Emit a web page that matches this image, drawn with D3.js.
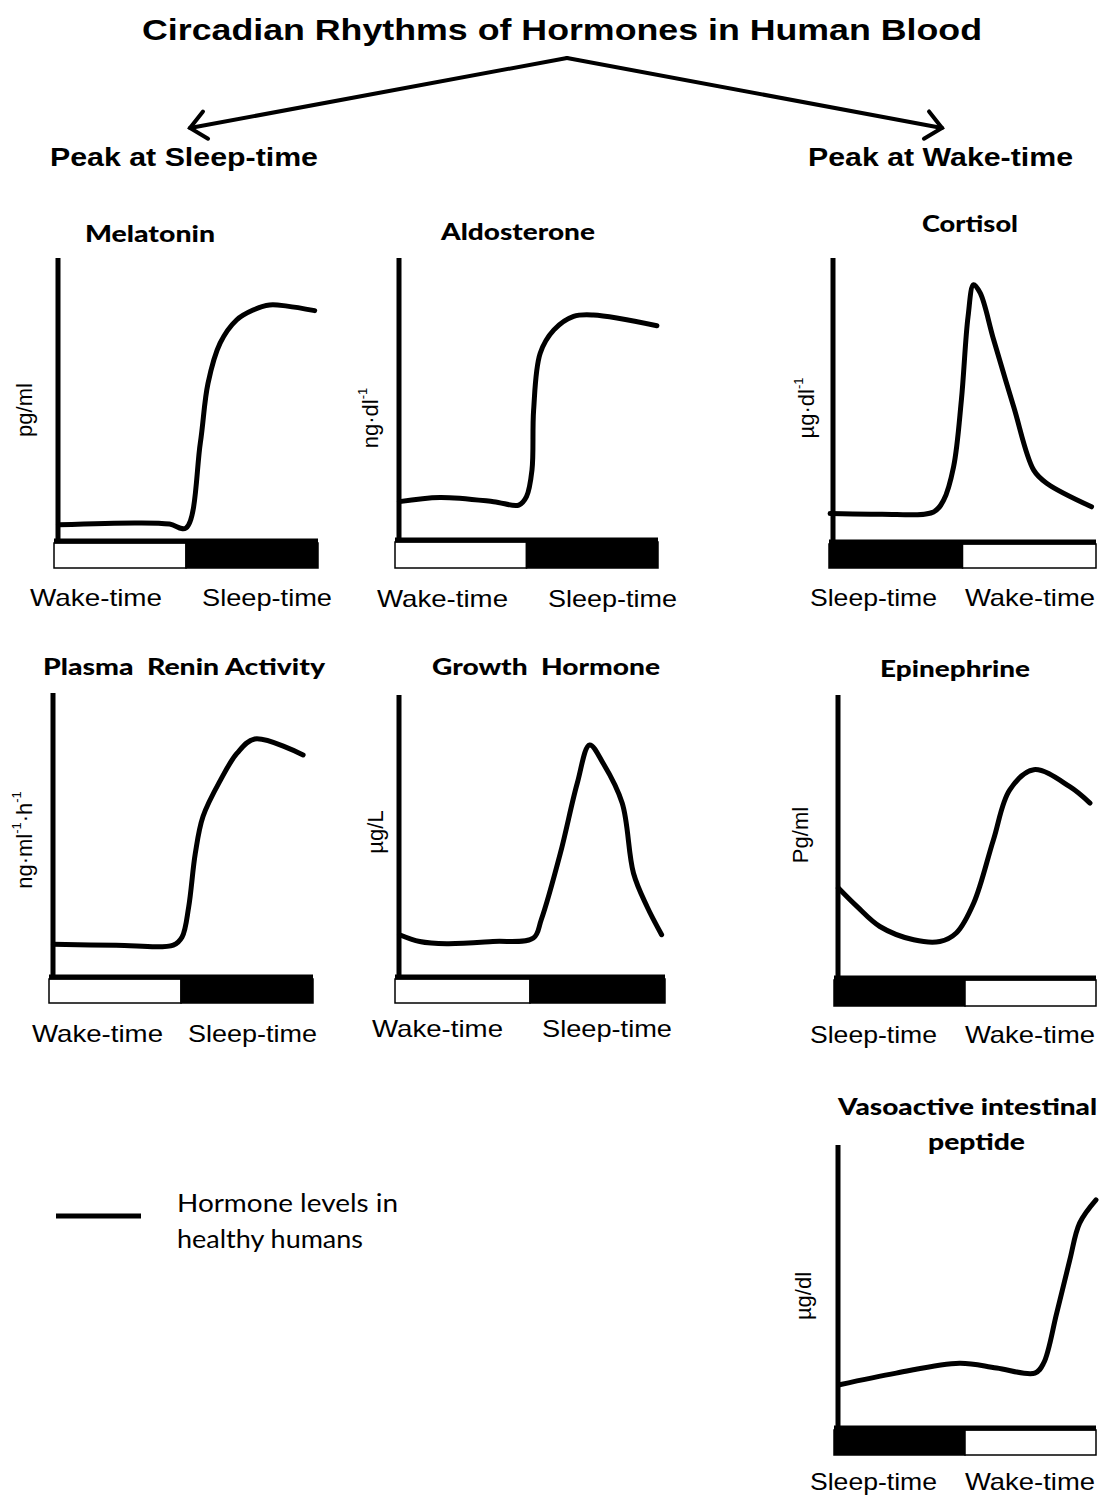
<!DOCTYPE html>
<html><head><meta charset="utf-8">
<script src="https://cdn.jsdelivr.net/npm/d3@7"></script>
<style>body{margin:0;background:#fff}</style>
</head><body>
<svg id="c" width="1107" height="1497"></svg>
<script>
// ---------- DATA (x: position along the 24-unit time axis, y: relative level 0-100) ----------
const melatonin = [[0.4,5.7],[7.5,6.4],[10.5,6],[12,4.6],[13.3,34.6],[14.0,55.7],[15.1,69.9],[16.6,78.1],[18.1,81.6],[19.6,83.4],[21.2,83.0],[23.7,81.4]];
const aldosterone = [[0.4,13.6],[4.1,15.1],[9.0,13.6],[11.3,12.4],[12.0,15.4],[12.5,24.8],[12.65,46.1],[13.25,66.2],[14.5,74.5],[16.3,79.3],[18.1,79.8],[23.9,76.0]];
const cortisol = [[0.1,10.0],[4.6,9.8],[9.4,10.6],[10.3,14.7],[11.2,26.5],[11.9,50.0],[12.5,79.4],[13.0,90.6],[13.6,87.6],[14.8,71.2],[16.6,47.6],[18.4,25.3],[19.6,20.6],[23.6,12.4]];
const renin = [[0.4,11.5],[6.1,11.2],[11.3,11.2],[12.1,14.1],[12.7,24.7],[13.3,43.5],[14.0,56.5],[15.6,69.4],[17.1,78.8],[18.7,83.8],[23.1,78.2]];
const growthHormone = [[0.4,15.0],[2.2,12.6],[4.6,11.8],[8.7,12.6],[12.3,13.8],[13.0,20.3],[14.7,43.9],[16.2,68.7],[17.3,82.3],[18.5,75.8],[20.2,61.6],[21.2,36.8],[22.4,25.0],[23.7,15.0]];
const epinephrine = [[0.4,31.8],[2.1,25.3],[4.2,18.2],[7.3,13.5],[9.7,12.9],[11.2,15.9],[12.8,26.5],[14.6,48.8],[16.1,66.5],[18.3,73.6],[21.6,67.6],[23.45,61.8]];
const vip = [[0.5,15.3],[5.7,19.4],[11.5,22.9],[14.9,21.2],[18.4,19.4],[19.2,22.9],[20.4,40.6],[21.6,59.4],[22.5,72.4],[24.0,80.6]];

const hormoneNames = ["Melatonin","Aldosterone","Cortisol","Plasma  Renin Activity","Growth  Hormone","Epinephrine","Vasoactive intestinal|peptide"];
const unitLabels = [["pg/ml"],["ng·dl","-1"],["µg·dl","-1"],["ng·ml","-1","·h","-1"],["µg/L"],["Pg/ml"],["µg/dl"]];
const sleepFirst = [false,false,true,false,false,true,true];
const phaseNames = ["Wake-time","Sleep-time"];
const mainTitle = "Circadian Rhythms of Hormones in Human Blood";
const groupTitles = ["Peak at Sleep-time","Peak at Wake-time"];
const legendText = ["Hormone levels in","healthy humans"];
const series = [melatonin, aldosterone, cortisol, renin, growthHormone, epinephrine, vip];

// ---------- LAYOUT ----------
const frames = [
  {l:54, r:318, t:258, a:541, b:568, title:[[85,215,242]], yl:[24,410,64], lab:[[30,162],[202,332],606]},
  {l:395,r:658, t:258, a:540, b:568, title:[[441,595,240]], yl:[370,418,61], lab:[[377,508],[548,677],607]},
  {l:829,r:1096,t:258, a:542, b:568, title:[[922,1018,232]], yl:[806,408,57], lab:[[810,937],[965,1095],606]},
  {l:49, r:313, t:693, a:977, b:1003, title:[[43,325,675]], yl:[24,840,125], lab:[[32,163],[188,317],1042]},
  {l:395,r:665, t:695, a:977, b:1003, title:[[432,660,675]], yl:[375,832,51], lab:[[372,503],[542,672],1037]},
  {l:834,r:1096,t:695, a:978, b:1006, title:[[880,1030,677]], yl:[800,835,64], lab:[[810,937],[965,1095],1043]},
  {l:834,r:1096,t:1145,a:1428,b:1455, title:[[838,1097,1115],[928,1025,1150]], yl:[803,1296,58], lab:[[810,937],[965,1095],1490]}
];

const svg = d3.select("#c");
svg.append("rect").attr("width",1107).attr("height",1497).attr("fill","#fff");

function fitText(g, str, x0, x1, y, font, size, weight){
  return g.append("text").attr("x",x0).attr("y",y).text(str)
    .attr("font-family",font).attr("font-size",size).attr("font-weight",weight||"normal")
    .attr("textLength",x1-x0).attr("lengthAdjust","spacingAndGlyphs").attr("fill","#000");
}

// main title and arrows
fitText(svg, mainTitle, 142, 982, 40, "'Liberation Sans', Arial, sans-serif", 30, "bold");
fitText(svg, groupTitles[0], 50, 318, 166, "'Liberation Sans', Arial, sans-serif", 26, "bold");
fitText(svg, groupTitles[1], 808, 1073, 166, "'Liberation Sans', Arial, sans-serif", 26, "bold");

const apex = [567,58];
[[190,128],[942,128]].forEach(tip=>{
  svg.append("line").attr("x1",apex[0]).attr("y1",apex[1]).attr("x2",tip[0]).attr("y2",tip[1])
    .attr("stroke","#000").attr("stroke-width",4).attr("stroke-linecap","round");
  const ang = Math.atan2(apex[1]-tip[1], apex[0]-tip[0]);
  const len = 21, spread = 0.72;
  const p1 = [tip[0]+len*Math.cos(ang+spread), tip[1]+len*Math.sin(ang+spread)];
  const p2 = [tip[0]+len*Math.cos(ang-spread), tip[1]+len*Math.sin(ang-spread)];
  svg.append("path").attr("d",`M${p1}L${tip}L${p2}`).attr("fill","none")
    .attr("stroke","#000").attr("stroke-width",4).attr("stroke-linecap","round").attr("stroke-linejoin","miter");
});

// panels
series.forEach((data,i)=>{
  const f = frames[i];
  const g = svg.append("g");
  const x = d3.scaleLinear().domain([0,24]).range([f.l,f.r]);
  const y = d3.scaleLinear().domain([0,100]).range([f.a,f.t]);

  // day/night bar
  const segs = sleepFirst[i] ? [{s:0,e:12,dark:true},{s:12,e:24,dark:false}] : [{s:0,e:12,dark:false},{s:12,e:24,dark:true}];
  segs.forEach(sg=>{
    g.append("rect").attr("x",x(sg.s)).attr("y",f.a+2).attr("width",x(sg.e)-x(sg.s)).attr("height",f.b-f.a-2)
      .attr("fill",sg.dark?"#000":"#fff").attr("stroke","#000").attr("stroke-width",1.5);
  });
  // axes
  g.append("line").attr("x1",x(0)).attr("x2",x(24)).attr("y1",f.a).attr("y2",f.a).attr("stroke","#000").attr("stroke-width",5);
  g.append("line").attr("x1",x(0)+4).attr("x2",x(0)+4).attr("y1",f.t).attr("y2",f.a).attr("stroke","#000").attr("stroke-width",5);

  // curve
  const line = d3.line().x(d=>x(d[0])).y(d=>y(d[1])).curve(d3.curveCatmullRom.alpha(0.5));
  g.append("path").datum(data).attr("d",line).attr("fill","none").attr("stroke","#000")
    .attr("stroke-width",5).attr("stroke-linecap","round").attr("stroke-linejoin","round");

  // title
  const tl = hormoneNames[i].split("|");
  tl.forEach((s,k)=>{ const tt=f.title[k]; fitText(g, s, tt[0], tt[1], tt[2], "Lato, 'Open Sans', sans-serif", 23, "900").style("white-space","pre"); });

  // y unit label
  const u = unitLabels[i];
  const yt = g.append("text").attr("transform",`translate(${f.yl[0]},${f.yl[1]}) rotate(-90)`)
    .attr("text-anchor","middle").attr("dominant-baseline","central")
    .attr("font-family","'Liberation Sans', Arial, sans-serif").attr("font-size",22).attr("fill","#000");
  u.forEach((s,k)=>{
    const ts = yt.append("tspan").text(s);
    if(k%2===1){ ts.attr("font-size",13).attr("dy",-8); }
    else if(k>0){ ts.attr("dy",8); }
  });

  // bottom labels
  const order = sleepFirst[i] ? [phaseNames[1],phaseNames[0]] : [phaseNames[0],phaseNames[1]];
  order.forEach((s,k)=>{ const r=f.lab[k]; fitText(g, s, r[0], r[1], f.lab[2], "'Liberation Sans', Arial, sans-serif", 24, "normal"); });
});

// legend
svg.append("line").attr("x1",56).attr("x2",141).attr("y1",1216).attr("y2",1216).attr("stroke","#000").attr("stroke-width",5);
fitText(svg, legendText[0], 177, 398, 1212, "Lato, 'Open Sans', sans-serif", 25, "normal");
fitText(svg, legendText[1], 177, 363, 1248, "Lato, 'Open Sans', sans-serif", 25, "normal");
</script>
</body></html>
